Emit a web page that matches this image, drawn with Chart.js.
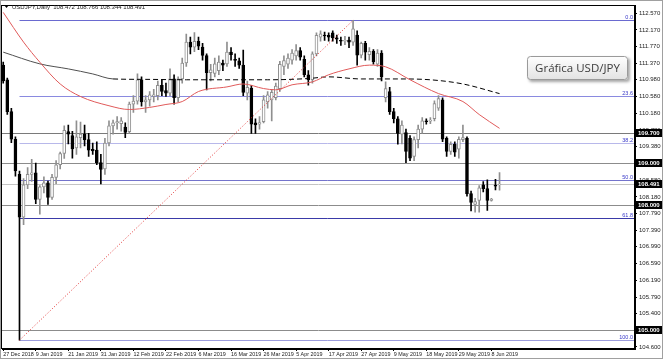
<!DOCTYPE html>
<html>
<head>
<meta charset="utf-8">
<script src="https://cdn.jsdelivr.net/npm/chart.js@4.4.0/dist/chart.umd.min.js"></script>
<style>
  html, body { margin: 0; padding: 0; background: #fff; }
</style>
</head>
<body>
<canvas id="chart" width="663" height="359"></canvas>
<script>
// daily USD/JPY candles (index = bar number)
const opens  = [111.33,110.98,110.22,109.56,108.72,107.70,108.47,108.72,108.76,108.12,108.42,108.52,108.17,108.65,108.95,109.22,109.74,109.65,109.35,109.60,
  109.68,109.55,109.32,109.30,109.00,108.85,109.47,109.88,109.95,109.93,109.85,109.74,110.40,110.47,110.98,110.45,110.50,110.58,110.60,110.85,
  110.72,110.66,111.00,110.55,111.00,111.38,111.88,111.76,111.90,111.76,111.56,111.15,111.13,111.20,111.38,111.36,111.64,111.47,111.43,111.33,
  110.66,110.78,109.95,109.92,109.98,110.45,110.50,110.55,110.77,111.30,111.35,111.45,111.55,111.68,111.47,111.10,110.98,111.60,112.00,112.05,
  112.04,112.10,111.98,111.92,111.90,111.93,111.88,112.05,111.57,111.85,111.58,111.66,111.35,111.62,110.55,110.70,110.22,110.05,109.68,109.72,
  109.58,109.15,109.55,109.80,110.00,109.99,110.05,110.30,110.50,109.58,109.27,109.44,109.32,109.55,109.58,108.26,108.00,108.10,108.47,108.38,
  108.10,108.46,108.472];
const highs  = [111.40,111.02,110.30,109.62,108.80,108.62,108.88,109.08,108.99,108.45,108.66,108.56,108.72,109.05,109.25,109.88,109.90,109.75,110.00,109.97,
  109.90,109.70,109.47,109.50,109.20,109.58,110.00,110.02,110.10,110.08,109.95,110.45,110.60,111.12,111.05,110.60,110.70,110.75,110.95,110.98,
  110.90,111.24,111.10,111.05,111.50,112.07,112.00,112.11,112.00,111.85,111.60,111.35,111.50,111.55,111.45,111.88,111.75,111.60,111.50,111.69,
  110.95,110.85,110.05,110.10,110.60,110.70,110.75,110.90,111.42,111.55,111.60,111.70,111.82,111.75,111.55,111.20,111.65,112.10,112.15,112.12,
  112.10,112.15,112.05,112.00,112.02,112.00,112.40,112.15,111.88,111.90,111.75,111.70,111.70,111.68,110.93,110.80,110.30,110.10,110.00,109.80,
  109.65,109.62,109.90,110.08,110.05,110.08,110.48,110.60,110.55,109.62,109.50,109.50,109.62,109.90,109.62,108.32,108.15,108.45,108.55,108.59,
  108.15,108.60,108.766];
const lows   = [110.90,110.15,109.48,108.68,104.76,107.52,108.38,108.55,108.02,107.77,108.28,108.00,108.12,108.50,108.85,109.10,109.45,109.11,109.20,109.35,
  109.40,109.15,109.20,108.95,108.49,108.72,109.40,109.68,109.80,109.75,109.60,109.70,110.20,110.40,110.35,110.20,110.35,110.45,110.50,110.60,
  110.58,110.60,110.40,110.45,110.90,111.30,111.60,111.65,111.70,111.45,110.74,110.95,111.05,111.10,111.20,111.30,111.45,111.30,111.25,110.60,
  110.50,109.70,109.70,109.80,109.95,110.30,110.00,110.50,110.70,111.10,111.25,111.35,111.45,111.45,111.05,110.85,110.90,111.55,111.90,111.92,
  111.90,111.90,111.85,111.80,111.82,111.75,111.80,111.33,111.50,111.45,111.45,111.35,111.30,110.95,110.45,110.15,109.95,109.44,109.45,109.00,
  109.05,109.05,109.35,109.70,109.92,109.93,110.00,110.25,109.50,109.15,109.20,109.15,109.11,109.50,108.20,107.85,107.82,107.82,108.30,107.86,
  108.08,108.35,108.344];
const closes = [110.95,110.22,109.56,108.80,107.70,108.47,108.72,108.76,108.12,108.42,108.52,108.17,108.65,108.95,109.22,109.77,109.68,109.33,109.62,109.68,
  109.55,109.30,109.28,109.00,108.84,109.47,109.88,109.95,109.98,110.00,109.72,110.40,110.47,110.98,110.45,110.50,110.62,110.62,110.85,110.70,
  110.66,111.00,110.55,111.00,111.38,111.88,111.76,111.90,111.78,111.56,111.15,111.22,111.36,111.40,111.33,111.64,111.58,111.44,111.33,110.68,
  110.80,109.92,109.90,109.96,110.50,110.62,110.68,110.83,111.35,111.44,111.50,111.62,111.68,111.52,111.10,110.98,111.60,112.04,112.08,112.03,
  112.00,111.98,111.95,111.90,111.92,111.88,112.20,111.57,111.85,111.64,111.66,111.41,111.62,111.05,110.77,110.22,110.05,109.70,109.90,109.27,
  109.11,109.55,109.80,110.00,109.98,110.02,110.41,110.53,109.56,109.27,109.44,109.25,109.56,109.60,108.26,108.05,108.07,108.40,108.38,108.10,
  108.13,108.44,108.491];

// moving averages (bar index, price)
const redMaIdx = [0, 5, 9, 14, 19, 26, 31, 36, 40, 44, 48, 55, 59, 64, 67, 71, 76, 80, 85, 90, 94, 100, 107, 113, 117, 122];
const redMaVal = [112.59,111.88,111.40,110.88,110.58,110.36,110.27,110.32,110.39,110.46,110.70,110.81,110.88,110.77,110.74,110.86,110.93,111.10,111.24,111.33,111.29,110.98,110.65,110.46,110.15,109.82];
const blackMaIdx = [0, 9, 16, 22, 27, 35, 45, 55, 65, 75, 80, 88, 97, 105, 113, 122];
const blackMaVal = [111.64,111.36,111.24,111.12,111.00,110.99,110.98,110.98,110.98,111.01,111.05,111.00,111.00,110.98,110.88,110.65];

// fibonacci retracement from the crash low to the April high
const fibStartIdx = 4;
const fibEndIdx = 86;
const fibLow = 104.76;
const fibHigh = 112.40;
const fibLevels = [0, 23.6, 38.2, 50, 61.8, 100];
const fibLabels = ['0.0', '23.6', '38.2', '50.0', '61.8', '100.0'];
const fibColors = ['#6a6ad0', '#8a8ae0', '#b8b8ea', '#7474cc', '#3a3aa8', '#9c9cdc'];

// horizontal levels with their price boxes
const hLevels = [109.70, 109.00, 108.491, 108.00, 105.00];
const hLabels = ['109.700', '109.000', '108.491', '108.000', '105.000'];
const hColors = ['#7a7a7a', '#8c8c8c', '#c4c4c4', '#8c8c8c', '#8c8c8c'];

// axes
const yTickVals = [112.570,112.170,111.770,111.370,110.980,110.580,110.180,109.780,109.380,108.980,108.580,108.180,107.790,107.390,106.990,106.590,106.190,105.790,105.400,105.000,104.600];
const xTickIdx = [0, 8, 16, 24, 32, 40, 48, 56, 64, 72, 80, 88, 96, 104, 112, 120];
const xTickLabels = ['27 Dec 2018','9 Jan 2019','21 Jan 2019','31 Jan 2019','12 Feb 2019','22 Feb 2019','6 Mar 2019','16 Mar 2019',
  '26 Mar 2019','5 Apr 2019','17 Apr 2019','27 Apr 2019','9 May 2019','18 May 2019','29 May 2019','8 Jun 2019'];

const titleText = 'USDJPY,Daily  108.472 108.766 108.344 108.491';
const boxText = 'Gráfica USD/JPY';

const smallFont = "'Liberation Sans', sans-serif";
const BULL = '#8f8f8f';
const BEAR = '#000000';

const isBull = i => closes[i] >= opens[i];

const wickData = opens.map((o, i) => ({ x: i, y: [lows[i], highs[i]] }));
const bodyData = opens.map((o, i) => ({ x: i, y: [o, closes[i]] }));

const fibPrice = lvl => fibHigh - (fibHigh - fibLow) * lvl / 100;

const overlayPlugin = {
  id: 'overlay',
  beforeDatasetsDraw(chart) {
    const { ctx, chartArea, scales } = chart;
    const y = scales.y, x = scales.x;
    ctx.save();
    ctx.beginPath();
    ctx.rect(chartArea.left, chartArea.top, chartArea.right - chartArea.left, chartArea.bottom - chartArea.top);
    ctx.clip();
    ctx.lineWidth = 1;
    // plain horizontal levels
    hLevels.forEach((p, k) => {
      const py = Math.round(y.getPixelForValue(p)) + 0.5;
      ctx.strokeStyle = hColors[k];
      ctx.beginPath();
      ctx.moveTo(chartArea.left, py);
      ctx.lineTo(chartArea.right, py);
      ctx.stroke();
    });
    // fibonacci levels
    const fx = Math.round(x.getPixelForValue(fibStartIdx)) + 0.5;
    fibLevels.forEach((lvl, k) => {
      const py = Math.round(y.getPixelForValue(fibPrice(lvl))) + 0.5;
      ctx.strokeStyle = fibColors[k];
      ctx.beginPath();
      ctx.moveTo(fx, py);
      ctx.lineTo(chartArea.right, py);
      ctx.stroke();
    });
    ctx.restore();
  },
  afterDraw(chart) {
    const { ctx, chartArea, scales } = chart;
    const y = scales.y;
    ctx.save();
    // fib texts
    ctx.font = '5.5px ' + smallFont;
    ctx.textAlign = 'right';
    ctx.textBaseline = 'bottom';
    fibLevels.forEach((lvl, k) => {
      const py = Math.round(y.getPixelForValue(fibPrice(lvl)));
      ctx.fillStyle = '#3838c8';
      ctx.fillText(fibLabels[k], chartArea.right - 2, py);
    });
    // price boxes on the right axis
    ctx.font = 'bold 6px ' + smallFont;
    ctx.textAlign = 'left';
    ctx.textBaseline = 'middle';
    hLevels.forEach((p, k) => {
      const py = Math.round(y.getPixelForValue(p));
      ctx.fillStyle = '#000';
      ctx.fillRect(chartArea.right + 1, py - 4, 663 - chartArea.right - 2, 8);
      ctx.fillStyle = '#fff';
      ctx.fillText(hLabels[k], chartArea.right + 3, py + 0.5);
    });
    // plot frame
    ctx.strokeStyle = '#000';
    ctx.lineWidth = 1;
    ctx.strokeRect(Math.round(chartArea.left) - 0.5, Math.round(chartArea.top) - 0.5,
      Math.round(chartArea.right - chartArea.left), Math.round(chartArea.bottom - chartArea.top));
    ctx.strokeStyle = '#a0a0a0';
    ctx.strokeRect(0.5, 0.5, 662, 358);
    // title with the small triangle
    ctx.fillStyle = '#000';
    ctx.beginPath();
    ctx.moveTo(4, 5);
    ctx.lineTo(9, 5);
    ctx.lineTo(6.5, 8);
    ctx.closePath();
    ctx.fill();
    ctx.font = '6px ' + smallFont;
    ctx.fillStyle = '#222';
    ctx.textAlign = 'left';
    ctx.textBaseline = 'middle';
    ctx.fillText(titleText, 12, 7);
    // label box
    const bx = 527, by = 56, bw = 101, bh = 24;
    ctx.shadowColor = 'rgba(0,0,0,0.35)';
    ctx.shadowBlur = 3;
    ctx.shadowOffsetX = 2;
    ctx.shadowOffsetY = 2;
    const g = ctx.createLinearGradient(0, by, 0, by + bh);
    g.addColorStop(0, '#ffffff');
    g.addColorStop(1, '#e2e2e2');
    ctx.fillStyle = g;
    ctx.beginPath();
    ctx.roundRect(bx, by, bw, bh, 3);
    ctx.fill();
    ctx.shadowColor = 'transparent';
    ctx.strokeStyle = '#9a9a9a';
    ctx.lineWidth = 1;
    ctx.beginPath();
    ctx.roundRect(bx + 0.5, by + 0.5, bw - 1, bh - 1, 3);
    ctx.stroke();
    ctx.font = "11.5px 'Open Sans', 'Noto Sans', sans-serif";
    ctx.fillStyle = '#3c3c3c';
    ctx.textAlign = 'center';
    ctx.textBaseline = 'middle';
    ctx.fillText(boxText, bx + bw / 2, by + bh / 2 + 0.5);
    ctx.restore();
  }
};

const chart = new Chart(document.getElementById('chart').getContext('2d'), {
  type: 'bar',
  data: {
    datasets: [
      {
        label: 'wick',
        data: wickData,
        grouped: false,
        barThickness: 1,
        borderWidth: 0,
        backgroundColor: wickData.map((d, i) => isBull(i) ? BULL : BEAR),
        order: 5,
      },
      {
        label: 'body',
        data: bodyData,
        grouped: false,
        barThickness: 3,
        borderWidth: 1,
        borderSkipped: false,
        backgroundColor: bodyData.map((d, i) => isBull(i) ? '#ffffff' : BEAR),
        borderColor: bodyData.map((d, i) => isBull(i) ? BULL : BEAR),
        order: 4,
      },
      {
        type: 'line',
        label: 'MA red',
        data: redMaIdx.map((x, k) => ({ x, y: redMaVal[k] })),
        borderColor: '#e05a5a',
        borderWidth: 1,
        pointRadius: 0,
        cubicInterpolationMode: 'monotone',
        order: 2,
      },
      {
        type: 'line',
        label: 'MA black',
        data: blackMaIdx.map((x, k) => ({ x, y: blackMaVal[k] })),
        borderColor: '#1a1a1a',
        borderWidth: 1,
        pointRadius: 0,
        cubicInterpolationMode: 'monotone',
        segment: {
          borderDash: ctx => ctx.p0.parsed.x >= 27 ? [5, 3] : undefined,
          borderColor: ctx => ctx.p0.parsed.x >= 27 ? '#000' : '#505050',
        },
        order: 2,
      },
      {
        type: 'line',
        label: 'trend',
        data: [{ x: fibStartIdx, y: fibLow }, { x: fibEndIdx, y: fibHigh }],
        borderColor: '#e03030',
        borderWidth: 1,
        borderDash: [1, 2],
        pointRadius: 0,
        order: 1,
      },
    ],
  },
  options: {
    responsive: false,
    animation: false,
    events: [],
    layout: { padding: { left: 2, top: 3, right: 0, bottom: 0 } },
    plugins: { legend: { display: false }, tooltip: { enabled: false } },
    scales: {
      x: {
        type: 'linear',
        offset: false,
        min: -0.3,
        max: 155.3,
        afterBuildTicks: s => { s.ticks = xTickIdx.map(v => ({ value: v })); },
        afterFit: s => { s.height = 10; },
        grid: { offset: false, drawOnChartArea: false, drawTicks: true, tickLength: 2, color: '#000' },
        border: { display: true, color: '#000' },
        ticks: {
          autoSkip: false,
          maxRotation: 0,
          align: 'start',
          padding: 0,
          color: '#222',
          font: { family: smallFont, size: 5.4 },
          callback: (v, i) => xTickLabels[i],
        },
      },
      y: {
        position: 'right',
        min: 104.549,
        max: 112.752,
        afterBuildTicks: s => { s.ticks = yTickVals.map(v => ({ value: v })); },
        afterFit: s => { s.width = 28; },
        grid: { drawOnChartArea: false, drawTicks: true, tickLength: 2, color: '#000' },
        border: { display: true, color: '#000' },
        ticks: {
          padding: 2,
          color: '#222',
          font: { family: smallFont, size: 6 },
          callback: v => v.toFixed(3),
        },
      },
    },
  },
  plugins: [overlayPlugin],
});
</script>
</body>
</html>
